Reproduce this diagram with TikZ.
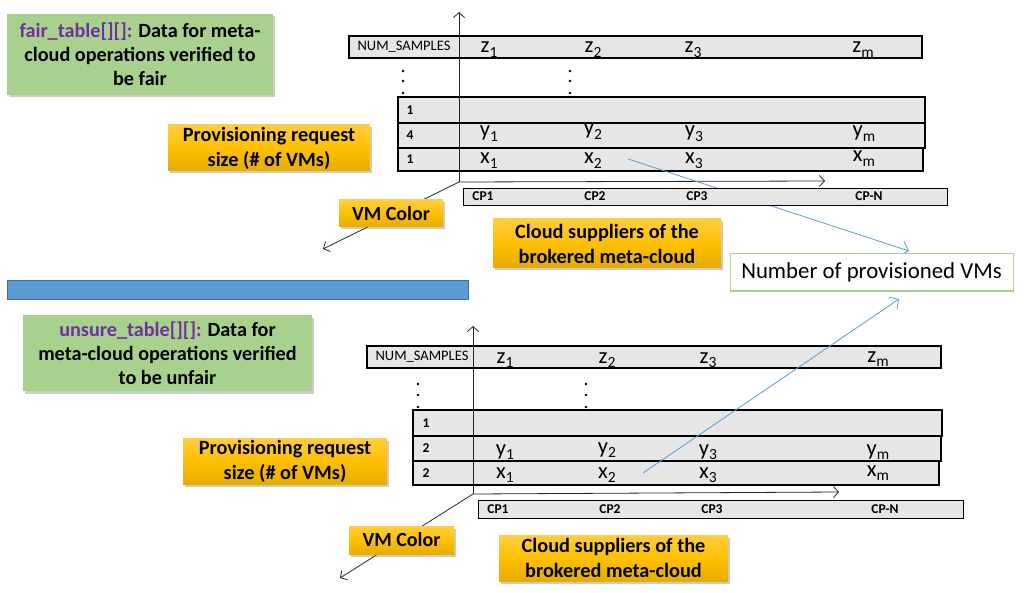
\documentclass[tikz,border=0pt]{standalone}
\usepackage{fontspec}
\setmainfont{Carlito}
\usetikzlibrary{arrows.meta,shadows}
\definecolor{gfill}{HTML}{A9D18E}
\definecolor{purp}{HTML}{7030A0}
\definecolor{goldT}{HTML}{FFCE40}
\definecolor{goldM}{HTML}{FFC000}
\definecolor{goldB}{HTML}{E6AC00}
\definecolor{rowgray}{HTML}{E6E6E6}
\definecolor{bbar}{HTML}{5B9BD5}
\definecolor{bbard}{HTML}{41719C}
\definecolor{axiscol}{HTML}{262626}
\newcommand\subl[1]{\raisebox{-0.22em}{\fontsize{15.5}{15.5}\selectfont #1}}
\begin{document}
\begin{tikzpicture}[x=1pt,y=-1pt,
  box/.style={rectangle, inner sep=0pt, outer sep=0pt, anchor=north west},
  shad/.style={drop shadow={shadow xshift=1.5pt,shadow yshift=-2.5pt,opacity=0.4}},
  greenbox/.style={box, shad, fill=gfill, align=center, font=\bfseries\fontsize{20.2}{24}\selectfont},
  goldbox/.style={box, shad, top color=goldT, bottom color=goldB, middle color=goldM, align=center, font=\bfseries\fontsize{20.3}{25}\selectfont},
  rowbox/.style={box, draw=black, line width=1.1pt, fill=rowgray},
  cpbox/.style={box, draw=black, line width=0.9pt, fill=rowgray},
  val/.style={anchor=base, inner sep=0pt, font=\fontsize{22.5}{22.5}\selectfont},
  cplab/.style={inner sep=0pt, font=\bfseries\fontsize{13.5}{13.5}\selectfont},
  rowlab/.style={inner sep=0pt, font=\bfseries\fontsize{13.5}{13.5}\selectfont},
  numlab/.style={inner sep=0pt, font=\fontsize{14.5}{14.5}\selectfont},
  axisarrow/.style={draw=axiscol, line width=0.8pt, -{Straight Barb[length=5pt,width=11pt,line width=0.8pt]}},
  bluearrow/.style={draw=bbar, line width=0.8pt, -{Straight Barb[length=7pt,width=15pt,line width=0.8pt]}},
  dotc/.style={fill=black}
]
\useasboundingbox (0,0) rectangle (1032,593);

% ---------- green title boxes and separator ----------
\node[greenbox, minimum width=266pt, minimum height=81pt] (g1) at (7,14)
  {\textcolor{purp}{fair\_table[][]:} Data for meta-\\cloud operations verified to\\be fair};
\node[greenbox, minimum width=289pt, minimum height=76pt] (g2) at (23,315)
  {\textcolor{purp}{unsure\_table[][]:} Data for\\meta-cloud operations verified\\to be unfair};
\node[box, fill=bbar, draw=bbard, line width=0.8pt, minimum width=461pt, minimum height=19pt] (bar) at (7,280) {};

% ---------- top table ----------
\node[rowbox, minimum width=573pt, minimum height=22pt] (tnum) at (349,36) {};
\node[rowbox, minimum width=527pt, minimum height=26pt] (tr1) at (398,97) {};
\node[rowbox, minimum width=527pt, minimum height=25pt] (tr2) at (398,123) {};
\node[rowbox, minimum width=525pt, minimum height=23pt] (tr3) at (398,148) {};

\foreach \yy in {71,81,93}{
  \fill[dotc] (403,\yy) circle (1.3pt);
  \fill[dotc] (570,\yy) circle (1.3pt);
}

\coordinate (to) at (459,182);
\coordinate (tup) at (459,12);
\coordinate (tright) at (825,181);
\coordinate (tdiag) at (323,249);
\draw[axisarrow] (to) -- (tup);
\draw[axisarrow] (to) -- (tright);
\draw[axisarrow] (to) -- (tdiag);

\coordinate (b1s) at (628,159);
\coordinate (b1e) at (909,251);
\draw[bluearrow] (b1s) -- (b1e);

\node[cpbox, minimum width=484pt, minimum height=17pt] (tcp) at (463,188) {};

\node[numlab] (tnumlab) at (404,47) {NUM\_SAMPLES};
\node[rowlab] (tl1) at (410,110) {1};
\node[rowlab] (tl2) at (410,135.5) {4};
\node[rowlab] (tl3) at (410,159.5) {1};

\node[val] (tz1) at (489,53) {z\subl{1}};
\node[val] (tz2) at (593,53) {z\subl{2}};
\node[val] (tz3) at (693,53) {z\subl{3}};
\node[val] (tzm) at (863,53) {z\subl{m}};
\node[val] (ty1) at (489,137) {y\subl{1}};
\node[val] (ty2) at (593,135) {y\subl{2}};
\node[val] (ty3) at (694,137) {y\subl{3}};
\node[val] (tym) at (864,137) {y\subl{m}};
\node[val] (tx1) at (489,164) {x\subl{1}};
\node[val] (tx2) at (593,164) {x\subl{2}};
\node[val] (tx3) at (694,164) {x\subl{3}};
\node[val] (txm) at (864,162) {x\subl{m}};

\node[cplab] (tc1) at (483,196.5) {CP1};
\node[cplab] (tc2) at (595,196.5) {CP2};
\node[cplab] (tc3) at (697,196.5) {CP3};
\node[cplab] (tcn) at (869,196.5) {CP-N};

\node[goldbox, minimum width=202pt, minimum height=46pt] (tprov) at (168,125) {Provisioning request\\size (\# of VMs)};
\node[goldbox, minimum width=104pt, minimum height=27pt, font=\bfseries\fontsize{20}{20}\selectfont] (tvm) at (339,200) {VM Color};
\node[goldbox, minimum width=228pt, minimum height=49pt] (tcloud) at (493,219) {Cloud suppliers of the\\brokered meta-cloud};

% ---------- bottom table ----------
\node[rowbox, minimum width=574pt, minimum height=22pt] (bnum) at (367,346) {};
\node[rowbox, minimum width=529pt, minimum height=26pt] (br1) at (413,410) {};
\node[rowbox, minimum width=528pt, minimum height=25pt] (br2) at (413,436) {};
\node[rowbox, minimum width=526pt, minimum height=24pt] (br3) at (413,461) {};

\foreach \yy in {384,395,407}{
  \fill[dotc] (418,\yy) circle (1.3pt);
  \fill[dotc] (586,\yy) circle (1.3pt);
}

\coordinate (bo) at (473,494);
\coordinate (bup) at (473,326);
\coordinate (bright) at (839,492);
\coordinate (bdiag) at (340,578);
\draw[axisarrow] (bo) -- (bup);
\draw[axisarrow] (bo) -- (bright);
\draw[axisarrow] (bo) -- (bdiag);

\node[numlab] (bnumlab) at (422,357) {NUM\_SAMPLES};
\node[rowlab] (bl1) at (426,423) {1};
\node[rowlab] (bl2) at (426,448.5) {2};
\node[rowlab] (bl3) at (426,473) {2};

\node[val] (bz1) at (505,363) {z\subl{1}};
\node[val] (bz2) at (607,363) {z\subl{2}};
\node[val] (bz3) at (708,363) {z\subl{3}};
\node[val] (bzm) at (878,362) {z\subl{m}};
\node[val] (by1) at (505,455) {y\subl{1}};
\node[val] (by2) at (607,453) {y\subl{2}};
\node[val] (by3) at (708,455) {y\subl{3}};
\node[val] (bym) at (878,455) {y\subl{m}};
\node[val] (bx1) at (505,478) {x\subl{1}};
\node[val] (bx2) at (607,478) {x\subl{2}};
\node[val] (bx3) at (708,478) {x\subl{3}};
\node[val] (bxm) at (878,476) {x\subl{m}};

\coordinate (b2s) at (643,473);
\coordinate (b2e) at (899,299);
\draw[bluearrow] (b2s) -- (b2e);

\node[cpbox, minimum width=485pt, minimum height=18pt] (bcp) at (478,500) {};
\node[cplab] (bc1) at (498,509) {CP1};
\node[cplab] (bc2) at (610,509) {CP2};
\node[cplab] (bc3) at (712,509) {CP3};
\node[cplab] (bcn) at (885,509) {CP-N};

\node[goldbox, minimum width=204pt, minimum height=46pt] (bprov) at (183,438) {Provisioning request\\size (\# of VMs)};
\node[goldbox, minimum width=105pt, minimum height=28pt, font=\bfseries\fontsize{20}{20}\selectfont] (bvm) at (349,526) {VM Color};
\node[goldbox, minimum width=229pt, minimum height=46pt] (bcloud) at (499,535) {Cloud suppliers of the\\brokered meta-cloud};

% ---------- shared label ----------
\node[box, draw=gfill, line width=1pt, fill=white, minimum width=283pt, minimum height=37pt, font=\fontsize{22.8}{22.8}\selectfont] (num) at (730,254) {Number of provisioned VMs};
\end{tikzpicture}
\end{document}
